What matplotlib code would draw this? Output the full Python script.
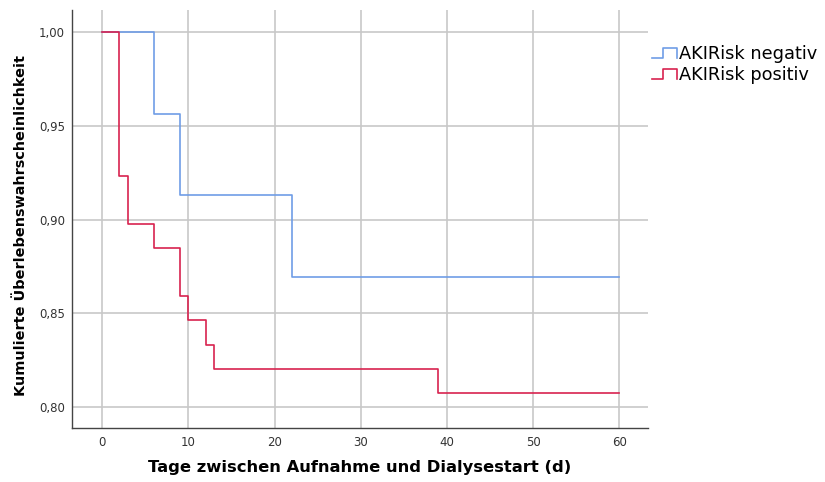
import matplotlib
matplotlib.use("Agg")
import matplotlib.pyplot as plt
from matplotlib.legend_handler import HandlerBase
from matplotlib.lines import Line2D
from matplotlib.ticker import FuncFormatter

# Kaplan-Meier Stufen (Tage, Ueberlebenswahrscheinlichkeit)
neg_days = [0, 6, 9, 22, 60]
neg_surv = [1.0, 0.9565, 0.9130, 0.8696, 0.8696]
pos_days = [0, 2, 3, 6, 9, 10, 12, 13, 39, 60]
pos_surv = [1.0, 0.9231, 0.8974, 0.8846, 0.8590, 0.8462, 0.8333, 0.8205, 0.8077, 0.8077]
labels = ["AKIRisk negativ", "AKIRisk positiv"]
colors = ["#6f9de6", "#d8234f"]

x_ticks = [0, 10, 20, 30, 40, 50, 60]
y_ticks = [0.80, 0.85, 0.90, 0.95, 1.00]


class StepHandler(HandlerBase):
    # kleines Stufensymbol wie in der SPSS-Legende
    def create_artists(self, legend, orig, xd, yd, w, h, fontsize, trans):
        xs = [xd, xd + 0.45 * w, xd + 0.45 * w, xd + w, xd + w]
        ys = [yd + 0.1 * h, yd + 0.1 * h, yd + 0.9 * h, yd + 0.9 * h, yd + 0.1 * h]
        ln = Line2D(xs, ys, color=orig.get_color(), lw=1.2, transform=trans)
        return [ln]


fig = plt.figure(figsize=(8.25, 4.82), dpi=100)
ax = fig.add_axes([0.0873, 0.112, 0.698, 0.867])

h1, = ax.step(neg_days, neg_surv, where="post", color=colors[0], lw=1.2)
h2, = ax.step(pos_days, pos_surv, where="post", color=colors[1], lw=1.2)

ax.set_xlim(-3.5, 63.3)
ax.set_ylim(0.7888, 1.0117)
ax.set_xticks(x_ticks)
ax.set_yticks(y_ticks)
ax.yaxis.set_major_formatter(FuncFormatter(lambda v, p: f"{v:.2f}".replace(".", ",")))
ax.grid(True, color="#c8c8c8", lw=1.2)
ax.set_axisbelow(True)
ax.tick_params(length=0, labelsize=8.5, colors="#333333")
ax.tick_params(axis="x", pad=6)
ax.tick_params(axis="y", pad=5)
for s in ["top", "right"]:
    ax.spines[s].set_visible(False)
for s in ["left", "bottom"]:
    ax.spines[s].set_color("#444444")
    ax.spines[s].set_linewidth(1.0)

ax.set_xlabel("Tage zwischen Aufnahme und Dialysestart (d)", fontsize=11.8,
              fontweight="bold", labelpad=8)
ax.set_ylabel("Kumulierte Überlebenswahrscheinlichkeit", fontsize=10.4,
              fontweight="bold")
ax.yaxis.set_label_coords(-0.077, 0.485)

fig.legend([h1, h2], labels, handler_map={h1: StepHandler(), h2: StepHandler()},
           loc="upper left", bbox_to_anchor=(0.771, 0.94), frameon=False,
           fontsize=12.8, handlelength=1.4, handletextpad=0.1, labelspacing=0.2)

fig.savefig("out.png", dpi=100)
